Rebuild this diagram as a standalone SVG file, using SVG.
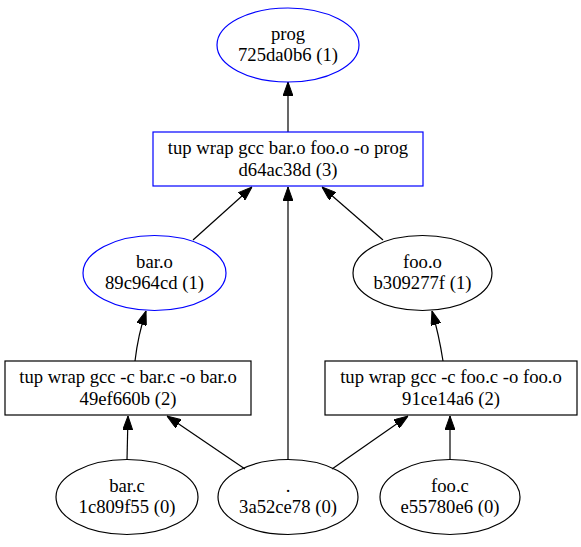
<svg xmlns="http://www.w3.org/2000/svg" width="581" height="547" viewBox="0 0 581 547">
<defs>
<style>
text{font-family:'Liberation Serif','Times New Roman','DejaVu Serif',serif;font-size:18.67px;text-anchor:middle;fill:#000}
.nb{fill:none;stroke:#0000ff;stroke-width:1.2}
.nk{fill:none;stroke:#000;stroke-width:1.2}
.e{fill:none;stroke:#000;stroke-width:1.2;marker-end:url(#arr)}
</style>
<marker id="arr" markerWidth="14" markerHeight="10" refX="14" refY="5" orient="auto" markerUnits="userSpaceOnUse">
<path d="M0,0 L14,5 L0,10 Z" fill="#000" stroke="#000" stroke-width="1"/>
</marker>
</defs>
<rect width="581" height="547" fill="#fff"/>
<g id="edges">
<path class="e" d="M288,132 L288,82"/>
<path class="e" d="M193,240 L252,187"/>
<path class="e" d="M288,460 L288,187"/>
<path class="e" d="M383,240 L322,187"/>
<path class="e" d="M135,361 Q138,335 146,311"/>
<path class="e" d="M443,361 Q439,335 432,311"/>
<path class="e" d="M127,460 L128,416"/>
<path class="e" d="M245,469 L167,416"/>
<path class="e" d="M332,469 L408,416"/>
<path class="e" d="M450,460 L450,416"/>
</g>
<g id="prog" font-family="Liberation Serif, serif">
<ellipse class="nb" cx="288" cy="45" rx="71" ry="37"/>
<text x="288" y="40">prog</text>
<text x="288" y="61">725da0b6 (1)</text>
</g>
<g id="link">
<rect class="nb" x="153" y="132" width="270" height="54"/>
<text x="288" y="154">tup wrap gcc bar.o foo.o -o prog</text>
<text x="288" y="176">d64ac38d (3)</text>
</g>
<g id="baro">
<ellipse class="nb" cx="154.5" cy="273" rx="71.5" ry="37.5"/>
<text x="154.5" y="268">bar.o</text>
<text x="154.5" y="289">89c964cd (1)</text>
</g>
<g id="fooo">
<ellipse class="nk" cx="422.5" cy="273" rx="69.5" ry="37.5"/>
<text x="422.5" y="268">foo.o</text>
<text x="422.5" y="289">b309277f (1)</text>
</g>
<g id="ccbar">
<rect class="nk" x="5" y="361" width="246" height="54"/>
<text x="128" y="383">tup wrap gcc -c bar.c -o bar.o</text>
<text x="128" y="405">49ef660b (2)</text>
</g>
<g id="ccfoo">
<rect class="nk" x="325" y="361" width="252" height="54"/>
<text x="451" y="383">tup wrap gcc -c foo.c -o foo.o</text>
<text x="451" y="405">91ce14a6 (2)</text>
</g>
<g id="barc">
<ellipse class="nk" cx="127" cy="497" rx="71" ry="37.5"/>
<text x="127" y="492">bar.c</text>
<text x="127" y="513">1c809f55 (0)</text>
</g>
<g id="dot">
<ellipse class="nk" cx="288" cy="497" rx="70" ry="37.5"/>
<text x="288" y="492">.</text>
<text x="288" y="513">3a52ce78 (0)</text>
</g>
<g id="fooc">
<ellipse class="nk" cx="450" cy="497" rx="70" ry="37.5"/>
<text x="450" y="492">foo.c</text>
<text x="450" y="513">e55780e6 (0)</text>
</g>
</svg>
